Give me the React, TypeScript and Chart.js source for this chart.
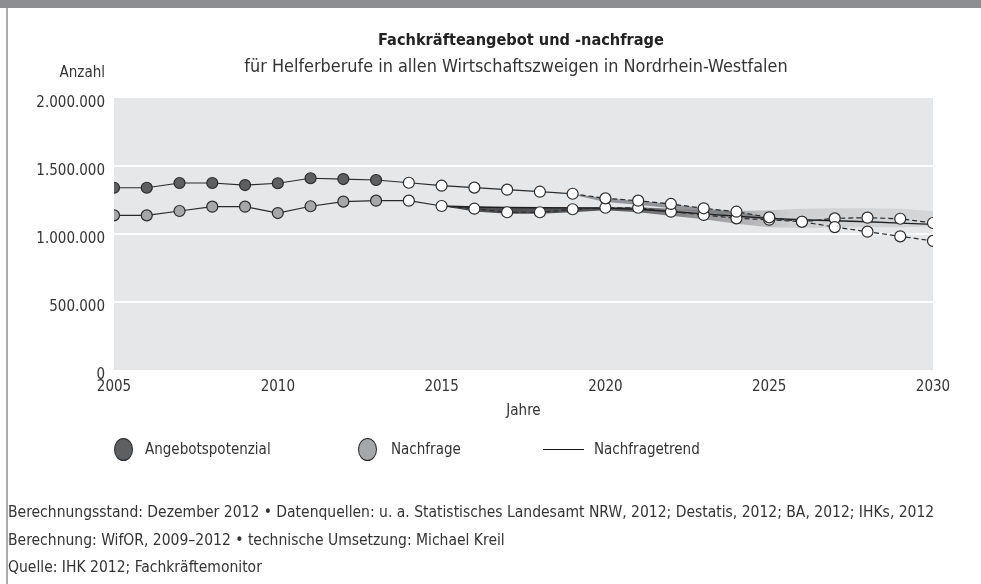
import React, { useEffect, useRef } from "react";
import { Chart, registerables } from "chart.js";
Chart.register(...registerables);

// ---- data ----
const years = [2005, 2006, 2007, 2008, 2009, 2010, 2011, 2012, 2013, 2014, 2015, 2016, 2017, 2018, 2019, 2020, 2021, 2022, 2023, 2024, 2025, 2026, 2027, 2028, 2029, 2030];
const angebotspotenzial = [1340000, 1340000, 1375000, 1375000, 1360000, 1373000, 1410000, 1404000, 1397000, 1377000, 1355000, 1341000, 1326000, 1311000, 1296000, 1262000, 1245000, 1221000, 1189000, 1164000, 1122000, 1090000, 1051000, 1017000, 983000, 949000];
const nachfrage = [1137000, 1137000, 1169000, 1201000, 1201000, 1154000, 1204000, 1238000, 1245000, 1245000, 1206000, 1186000, 1160000, 1160000, 1182000, 1193000, 1193000, 1164000, 1140000, 1115000, 1105000, 1090000, 1115000, 1120000, 1112000, 1081000];
const lastObservedYear = 2013;

const trendYears = [2015, 2016, 2017, 2018, 2019, 2020, 2021, 2022, 2023, 2024, 2025, 2026, 2027, 2028, 2029, 2030];
const nachfragetrend = [1206000, 1198000, 1195000, 1193000, 1192000, 1190000, 1182000, 1165000, 1148000, 1130000, 1115000, 1105000, 1097000, 1090000, 1080000, 1071000];
const nachfrageBandUpper = [1206000, 1200000, 1197000, 1196000, 1196000, 1196000, 1196000, 1185000, 1175000, 1170000, 1175000, 1185000, 1190000, 1190000, 1185000, 1170000];
const nachfrageBandLower = [1206000, 1165000, 1148000, 1148000, 1160000, 1175000, 1160000, 1135000, 1108000, 1075000, 1050000, 1045000, 1048000, 1050000, 1050000, 1055000];

const angebotBandYears = [2018, 2019, 2020, 2021, 2022, 2023, 2024, 2025, 2026];
const angebotBandUpper = [1311000, 1296000, 1262000, 1245000, 1221000, 1189000, 1164000, 1122000, 1090000];
const angebotBandLower = [1311000, 1288000, 1235000, 1215000, 1190000, 1160000, 1130000, 1105000, 1090000];

const xTickValues = [2005, 2010, 2015, 2020, 2025, 2030];
const yTickValues = [0, 500000, 1000000, 1500000, 2000000];

const legendLabels = ["Angebotspotenzial", "Nachfrage", "Nachfragetrend"];
const footerLines = [
  "Berechnungsstand: Dezember 2012 \u2022 Datenquellen: u. a. Statistisches Landesamt NRW, 2012; Destatis, 2012; BA, 2012; IHKs, 2012",
  "Berechnung: WifOR, 2009\u20132012 \u2022 technische Umsetzung: Michael Kreil",
  "Quelle: IHK 2012; Fachkr\u00e4ftemonitor",
];

const FONT = '"Liberation Sans Narrow", "DejaVu Sans Condensed", "Noto Sans", sans-serif';
const TEXT = "#333333";
const LINE = "#2a2a2a";
const DARK_FILL = "#5e5f61";
const LIGHT_FILL = "#a6a7a9";

const pts = (xs: number[], ys: number[]) => xs.map((x, i) => ({ x, y: ys[i] }));
const fmt = (v: number) => String(Math.round(v)).replace(/\B(?=(\d{3})+(?!\d))/g, ".");

export default function App() {
  const ref = useRef<HTMLCanvasElement | null>(null);

  useEffect(() => {
    if (!ref.current) return;
    const bgPlugin = {
      id: "plotBg",
      beforeDraw(chart: any) {
        const { ctx, chartArea } = chart;
        ctx.save();
        ctx.fillStyle = "#e6e7e9";
        ctx.fillRect(chartArea.left, chartArea.top, chartArea.right - chartArea.left, chartArea.bottom - chartArea.top);
        ctx.restore();
      },
    };

    const bandGradient = (c: any) => {
      const chart = c.chart;
      if (!chart.chartArea || !chart.scales.x) return "#5a5a5c";
      const xs = chart.scales.x;
      const g = chart.ctx.createLinearGradient(xs.getPixelForValue(2015), 0, xs.getPixelForValue(2030), 0);
      g.addColorStop(0, "#4e4e50");
      g.addColorStop(0.34, "#57575a");
      g.addColorStop(0.44, "#767678");
      g.addColorStop(0.54, "#9a9a9c");
      g.addColorStop(0.64, "#b9b9bb");
      g.addColorStop(0.71, "#cfd0d2");
      g.addColorStop(1, "#d5d6d8");
      return g;
    };

    const seriesDataset = (label: string, values: number[], fillColor: string, dashFrom: number, order: number) => ({
      label,
      data: pts(years, values),
      borderColor: LINE,
      borderWidth: 1.2,
      fill: false,
      pointRadius: 5.5,
      pointBorderWidth: 1.2,
      pointBorderColor: LINE,
      pointBackgroundColor: (c: any) => (years[c.dataIndex] <= lastObservedYear ? fillColor : "#ffffff"),
      segment: {
        borderDash: (c: any) => (c.p0.parsed.x >= dashFrom ? [5, 3] : undefined),
      },
      order,
    });

    const chart = new Chart(ref.current, {
      type: "line",
      data: {
        datasets: [
          {
            label: "band-n-upper",
            data: pts(trendYears, nachfrageBandUpper),
            borderWidth: 0,
            pointRadius: 0,
            fill: "+1",
            backgroundColor: bandGradient,
            order: 10,
          },
          {
            label: "band-n-lower",
            data: pts(trendYears, nachfrageBandLower),
            borderWidth: 0,
            pointRadius: 0,
            fill: false,
            order: 10,
          },
          {
            label: "band-a-upper",
            data: pts(angebotBandYears, angebotBandUpper),
            borderWidth: 0,
            pointRadius: 0,
            fill: "+1",
            backgroundColor: "rgba(120,121,124,0.75)",
            order: 9,
          },
          {
            label: "band-a-lower",
            data: pts(angebotBandYears, angebotBandLower),
            borderWidth: 0,
            pointRadius: 0,
            fill: false,
            order: 9,
          },
          {
            label: legendLabels[2],
            data: pts(trendYears, nachfragetrend),
            borderColor: "#1e1e1e",
            borderWidth: 1.4,
            pointRadius: 0,
            fill: false,
            order: 3,
          },
          seriesDataset(legendLabels[1], nachfrage, LIGHT_FILL, 2015, 2) as any,
          seriesDataset(legendLabels[0], angebotspotenzial, DARK_FILL, 2019, 1) as any,
        ],
      },
      options: {
        responsive: false,
        animation: false,
        devicePixelRatio: 1,
        layout: { padding: { left: 0, top: 98, right: 48, bottom: 184 } },
        plugins: { legend: { display: false }, tooltip: { enabled: false }, title: { display: false } },
        scales: {
          x: {
            type: "linear",
            min: 2005,
            max: 2030,
            afterFit: (s: any) => {
              s.height = 30;
            },
            afterBuildTicks: (s: any) => {
              s.ticks = xTickValues.map((v) => ({ value: v }));
            },
            grid: { display: false },
            border: { display: false },
            ticks: {
              padding: 0,
              color: TEXT,
              font: { family: FONT, size: 15 },
              callback: (v: any) => String(v),
              maxRotation: 0,
            },
          },
          y: {
            type: "linear",
            min: 0,
            max: 2000000,
            afterFit: (s: any) => {
              s.width = 114;
            },
            afterBuildTicks: (s: any) => {
              s.ticks = yTickValues.map((v) => ({ value: v }));
            },
            grid: {
              drawTicks: false,
              lineWidth: 2,
              color: (c: any) => (c.tick && (c.tick.value === 0 || c.tick.value === 2000000) ? "rgba(0,0,0,0)" : "#ffffff"),
            },
            border: { display: false },
            ticks: {
              padding: 9,
              labelOffset: 5,
              color: TEXT,
              font: { family: FONT, size: 15 },
              callback: (v: any) => fmt(Number(v)),
            },
          },
        },
      },
      plugins: [bgPlugin],
    });
    return () => chart.destroy();
  }, []);

  const abs = (o: React.CSSProperties): React.CSSProperties => ({ position: "absolute", whiteSpace: "nowrap", ...o });

  return (
    <div style={{ position: "absolute", left: 0, top: 0, width: 981, height: 584, background: "#fff", overflow: "hidden", fontFamily: FONT, color: TEXT }}>
      <div style={abs({ left: 0, top: 0, width: 981, height: 8, background: "#8d8e91" })} />
      <div style={abs({ left: 6, top: 8, width: 2, height: 576, background: "#ababad" })} />
      <canvas ref={ref} width={981} height={584} style={{ position: "absolute", left: 0, top: 0, width: 981, height: 584 }} />
      <div style={abs({ left: 0, width: 1042, top: 28, height: 24, lineHeight: "24px", textAlign: "center", fontWeight: "bold", fontSize: 16.2, color: "#222" })}>Fachkräfteangebot und -nachfrage</div>
      <div style={abs({ left: 0, width: 1032, top: 54, height: 24, lineHeight: "24px", textAlign: "center", fontSize: 17.9 })}>für Helferberufe in allen Wirtschaftszweigen in Nordrhein-Westfalen</div>
      <div style={abs({ left: 0, width: 105, top: 61, height: 22, lineHeight: "22px", textAlign: "right", fontSize: 15 })}>Anzahl</div>
      <div style={abs({ left: 0, width: 1047, top: 399, height: 22, lineHeight: "22px", textAlign: "center", fontSize: 15 })}>Jahre</div>

      <div style={abs({ left: 114, top: 438, width: 19, height: 23, borderRadius: "50%", background: DARK_FILL, border: "1.3px solid #2a2a2a", boxSizing: "border-box" })} />
      <div style={abs({ left: 145, top: 438, height: 22, lineHeight: "22px", fontSize: 15 })}>{legendLabels[0]}</div>
      <div style={abs({ left: 358, top: 438, width: 19, height: 23, borderRadius: "50%", background: LIGHT_FILL, border: "1.3px solid #2a2a2a", boxSizing: "border-box" })} />
      <div style={abs({ left: 391, top: 438, height: 22, lineHeight: "22px", fontSize: 15 })}>{legendLabels[1]}</div>
      <div style={abs({ left: 543, top: 449, width: 41, height: 1.3, background: "#1e1e1e" })} />
      <div style={abs({ left: 594, top: 438, height: 22, lineHeight: "22px", fontSize: 15 })}>{legendLabels[2]}</div>

      {footerLines.map((t, i) => (
        <div key={i} style={abs({ left: 8, top: 501 + i * 27.5, height: 22, lineHeight: "22px", fontSize: 15.5 })}>{t}</div>
      ))}
    </div>
  );
}
